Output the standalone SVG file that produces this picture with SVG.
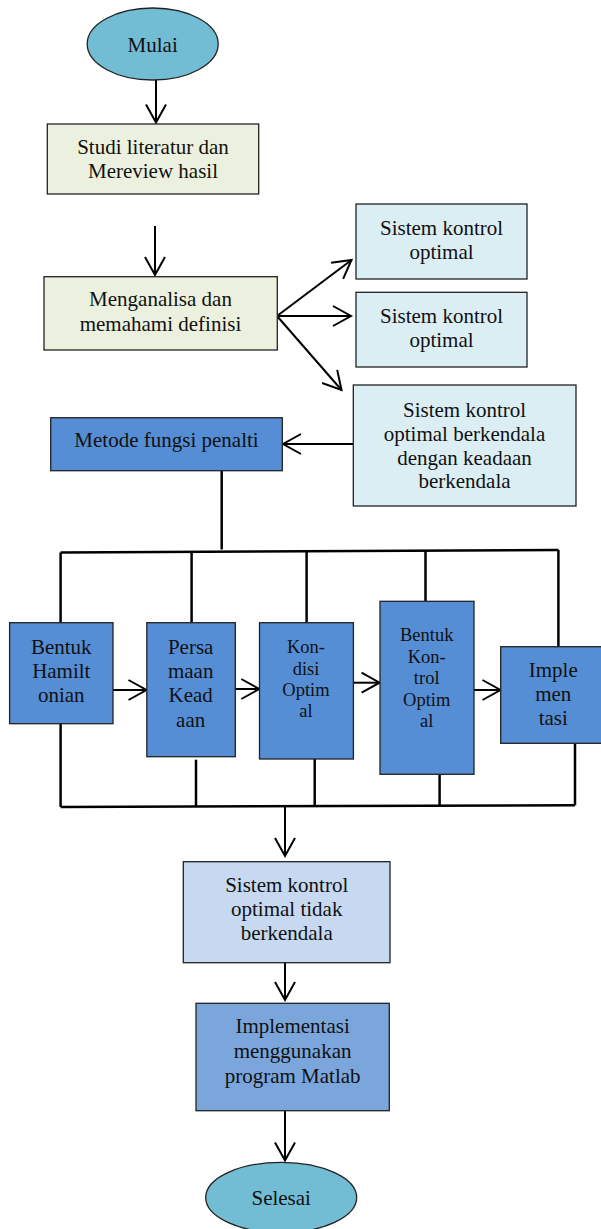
<svg xmlns="http://www.w3.org/2000/svg" width="601" height="1229" viewBox="0 0 601 1229">
<defs>
<marker id="arr" markerUnits="userSpaceOnUse" markerWidth="24" markerHeight="24" viewBox="-20 -12 22 24" refX="0" refY="0" orient="auto">
<path d="M -18,-10 L 0,0 L -18,10" fill="none" stroke="#000" stroke-width="2"/>
</marker>
</defs>
<style>
text{font-family:"Liberation Serif","Times New Roman",serif;fill:#111;text-anchor:middle;font-size:21px}
.sm{font-size:18.5px}
.box{stroke:#222;stroke-width:1.3}
.green{fill:#ebf1de}
.lblue{fill:#dbeef4}
.blue{fill:#558ed5}
.pale{fill:#c6d9f1}
.mid{fill:#7aa6dc}
.oval{fill:#72bcd4;stroke:#222;stroke-width:1.3}
.ln{fill:none;stroke:#000;stroke-width:2}
.bus{fill:none;stroke:#000;stroke-width:2.5}
.ar{fill:none;stroke:#000;stroke-width:2;marker-end:url(#arr)}
</style>

<g id="connectors">
<line class="ar" x1="156" y1="80" x2="156" y2="122.5"/>
<line class="ar" x1="155" y1="226" x2="155" y2="275"/>
<line class="ar" x1="277" y1="316" x2="351.5" y2="260"/>
<line class="ar" x1="277" y1="316" x2="351" y2="316"/>
<line class="ar" x1="277" y1="316" x2="341.5" y2="390"/>
<line class="ar" x1="353" y1="444" x2="283" y2="444"/>
<line class="bus" x1="221.7" y1="470.7" x2="221.7" y2="549.5"/>
<line class="bus" x1="60.6" y1="552.5" x2="558.5" y2="550"/>
<line class="bus" x1="60.6" y1="552.5" x2="60.6" y2="622.7"/>
<line class="bus" x1="191.6" y1="552" x2="191.6" y2="622.7"/>
<line class="bus" x1="306.6" y1="551.5" x2="306.6" y2="622.7"/>
<line class="bus" x1="425.5" y1="551" x2="425.5" y2="601"/>
<line class="bus" x1="558.4" y1="550" x2="558.4" y2="646.7"/>
<line class="ar" x1="113" y1="690" x2="146.5" y2="690"/>
<line class="ar" x1="235.3" y1="689" x2="259.3" y2="689"/>
<line class="ar" x1="353.4" y1="682.7" x2="379.6" y2="682.7"/>
<line class="ar" x1="474" y1="690" x2="500.5" y2="690"/>
<line class="bus" x1="60.6" y1="724" x2="60.6" y2="807"/>
<line class="bus" x1="196" y1="759.7" x2="196" y2="806.5"/>
<line class="bus" x1="314.7" y1="757" x2="314.7" y2="806"/>
<line class="bus" x1="439.6" y1="774.5" x2="439.6" y2="806"/>
<line class="bus" x1="575" y1="743.3" x2="575" y2="805.3"/>
<line class="bus" x1="60.6" y1="807" x2="575" y2="805.3"/>
<line class="ar" x1="285" y1="806" x2="285" y2="856"/>
<line class="ar" x1="285" y1="962.7" x2="285" y2="1000"/>
<line class="ar" x1="285" y1="1110.7" x2="285" y2="1160.5"/>
</g>

<g id="mulai">
<ellipse class="oval" cx="152.7" cy="44" rx="65.5" ry="36"/>
<text x="152.7" y="51.7">Mulai</text>
</g>

<g id="studi">
<rect class="box green" x="47.3" y="124" width="211.4" height="70"/>
<text x="153" y="154">Studi literatur dan</text>
<text x="153" y="178">Mereview hasil</text>
</g>

<g id="menganalisa">
<rect class="box green" x="44" y="276.7" width="233.3" height="73.3"/>
<text x="160.5" y="305.7">Menganalisa dan</text>
<text x="160.5" y="331">memahami definisi</text>
</g>

<g id="sko1">
<rect class="box lblue" x="356" y="204" width="171" height="75"/>
<text x="441.5" y="235">Sistem kontrol</text>
<text x="441.5" y="259">optimal</text>
</g>

<g id="sko2">
<rect class="box lblue" x="356" y="292.3" width="171" height="74.7"/>
<text x="441.5" y="323">Sistem kontrol</text>
<text x="441.5" y="347">optimal</text>
</g>

<g id="sko3">
<rect class="box lblue" x="353.3" y="385" width="222.7" height="121"/>
<text x="464.5" y="416.7">Sistem kontrol</text>
<text x="464.5" y="440.7">optimal berkendala</text>
<text x="464.5" y="464.5">dengan keadaan</text>
<text x="464.5" y="488">berkendala</text>
</g>

<g id="metode">
<rect class="box blue" x="50.7" y="417.7" width="231.6" height="53"/>
<text x="166.5" y="447.3">Metode fungsi penalti</text>
</g>

<g id="hamiltonian">
<rect class="box blue" x="9.6" y="622.7" width="103.4" height="101"/>
<text x="61.3" y="654">Bentuk</text>
<text x="61.3" y="678.3">Hamilt</text>
<text x="61.3" y="701.7">onian</text>
</g>

<g id="persamaan">
<rect class="box blue" x="146.8" y="622.7" width="88.5" height="134"/>
<text x="190.7" y="654">Persa</text>
<text x="190.7" y="678.3">maan</text>
<text x="190.7" y="701.7">Kead</text>
<text x="190.7" y="726.7">aan</text>
</g>

<g id="kondisi">
<rect class="box blue" x="259.5" y="622.7" width="93.9" height="136.3"/>
<text class="sm" x="306" y="653.3">Kon-</text>
<text class="sm" x="306" y="674.5">disi</text>
<text class="sm" x="306" y="696">Optim</text>
<text class="sm" x="306" y="717.3">al</text>
</g>

<g id="bentukkontrol">
<rect class="box blue" x="380" y="601.3" width="94" height="173"/>
<text class="sm" x="426.7" y="640.7">Bentuk</text>
<text class="sm" x="426.7" y="662.5">Kon-</text>
<text class="sm" x="426.7" y="684.3">trol</text>
<text class="sm" x="426.7" y="705.7">Optim</text>
<text class="sm" x="426.7" y="726.7">al</text>
</g>

<g id="implementasi1">
<rect class="box blue" x="500.7" y="646.7" width="106" height="96.6"/>
<text x="553.3" y="677.3">Imple</text>
<text x="553.3" y="701">men</text>
<text x="553.3" y="725">tasi</text>
</g>

<g id="tidakberkendala">
<rect class="box pale" x="183.3" y="861.7" width="206.7" height="101"/>
<text x="286.7" y="891.7">Sistem kontrol</text>
<text x="286.7" y="916.2">optimal tidak</text>
<text x="286.7" y="940">berkendala</text>
</g>

<g id="matlab">
<rect class="box mid" x="196" y="1003.3" width="193.3" height="107.4"/>
<text x="292.6" y="1033">Implementasi</text>
<text x="292.6" y="1058">menggunakan</text>
<text x="292.6" y="1083">program Matlab</text>
</g>

<g id="selesai">
<ellipse class="oval" cx="281.2" cy="1197.5" rx="75.5" ry="35.2"/>
<text x="281.2" y="1205">Selesai</text>
</g>
</svg>
